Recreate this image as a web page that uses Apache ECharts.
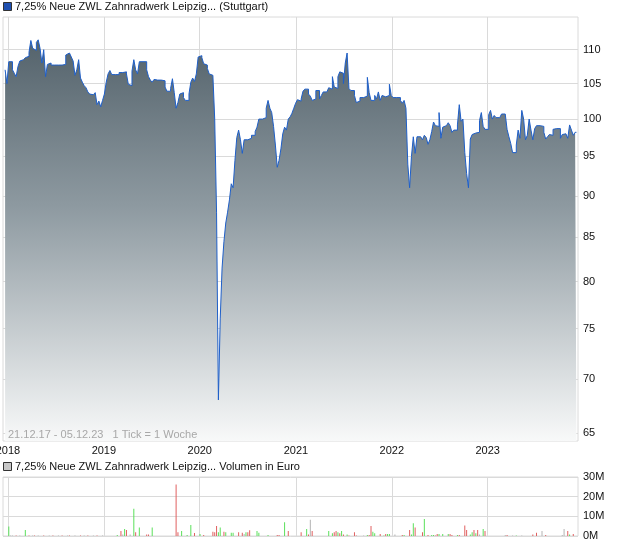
<!DOCTYPE html>
<html><head><meta charset="utf-8">
<script src="https://cdn.jsdelivr.net/npm/echarts@6/dist/echarts.min.js"></script>
<style>html,body{margin:0;padding:0;background:#fff}#c{width:620px;height:546px}</style>
</head><body><div id="c"></div>
<script>
const titleText = '7,25% Neue ZWL Zahnradwerk Leipzig... (Stuttgart)';
const volTitleText = '7,25% Neue ZWL Zahnradwerk Leipzig... Volumen in Euro';
const rangeNote = '21.12.17 - 05.12.23   1 Tick = 1 Woche';
const years = [2018, 2019, 2020, 2021, 2022, 2023];
const priceTicks = [65, 70, 75, 80, 85, 90, 95, 100, 105, 110];
const volTicks = [0, 10, 20, 30];
const firstWeek = [2017, 11, 21];
const lastDate = [2023, 11, 5];
const prices = [
 107, 105, 108.2, 108.2, 107, 106.5, 106, 107.5, 108.3, 108.5,
 108.5, 108.8, 109, 109.6, 111.4, 110.2, 109.9, 111.1, 111.5, 110.2,
 108, 110, 106, 107.8, 108, 107.7, 107.7, 107.7, 107.7, 107.7,
 107.7, 107.7, 107.8, 109.2, 109.5, 109.2, 108.9, 108.3, 106.2, 107,
 108.5, 105.8, 105.2, 104.7, 104.4, 103.8, 103.5, 103.4, 103.4, 103.7,
 102, 102.5, 101.7, 102.6, 103.5, 105.2, 106.4, 106.9, 106.3, 106.3,
 106.3, 106.3, 106.6, 106.6, 106.6, 106.7, 106.4, 104.9, 104.7, 106.8,
 108.5, 107, 106.4, 108.2, 108.2, 108.2, 108.2, 107, 106, 105.5,
 105.2, 105.6, 105.5, 105.5, 105.5, 105.5, 105.4, 104.5, 103.9, 103.9,
 104.3, 105.7, 103.7, 101.5, 102.3, 103.5, 103.7, 103, 102.6, 102.6,
 103.5, 105.2, 105.8, 105.3, 106.4, 108.9, 109.1, 108.8, 107.9, 107.7,
 107.2, 106.4, 106.2, 106, 100, 88, 68, 76, 81.5, 84.5,
 86.7, 88, 89.5, 91.5, 91, 94.5, 97.5, 98.5, 97.2, 95.4,
 97.2, 97.2, 97, 97.4, 97.8, 97.8, 98.3, 98.9, 100, 100,
 100, 100.2, 101.5, 102.6, 101.5, 100.9, 99, 96.5, 93.6, 94.5,
 96, 98, 98.9, 98.5, 100, 100.3, 100.8, 101.5, 102.2, 102.7,
 102.5, 102.8, 103.9, 104.2, 104.2, 103.5, 103.2, 102.6, 102.8, 104,
 104, 102.8, 103.3, 103.8, 103.8, 103.9, 104.4, 104.2, 106, 104.5,
 104.3, 106, 106.7, 106.5, 105, 108, 109.5, 104.3, 104, 104,
 103.3, 102.3, 102.5, 103, 103, 103, 103.2, 105.9, 103.7, 102.6,
 102.6, 103.3, 102.8, 103.8, 102.6, 103.3, 103.1, 103.1, 103.3, 104.9,
 103.3, 103, 103, 103, 103, 102.6, 102.2, 102.6, 101.5, 94,
 91, 95, 97.6, 95.4, 97.6, 97.6, 97.4, 97.2, 97.8, 97.5,
 96.6, 97.2, 98.3, 99.6, 99.1, 99, 100.9, 97.4, 98.9, 99.1,
 99.1, 99.5, 99.1, 98.2, 98.5, 98.5, 99.2, 102, 99.7, 100,
 95.5, 92.8, 91, 97.3, 97.9, 98.1, 98.3, 98.2, 99.8, 100.9,
 99, 98.6, 98.6, 100.6, 101.2, 100, 100.5, 100.2, 100.2, 100.2,
 100.7, 100.7, 100.7, 98.6, 97.6, 96.7, 95.5, 95.5, 96.5, 98.5,
 97.4, 101.2, 100, 97.2, 97.8, 100, 98.5, 97.2, 98.7, 99.1,
 99.1, 99.1, 99, 98.2, 97.3, 97.6, 97.9, 97.8, 98.6, 98.7,
 98.7, 98.7, 97.4, 97.9, 98, 97.8, 97.4, 99.2, 98.5, 97.8,
 98.2, 98.2
];
// volume: week index, value in million euro, sign (g = up, r = down, n = unchanged)
const volWeek = [2,3,4,6,8,11,13,15,16,18,21,24,26,29,31,34,35,38,41,43,45,48,50,53,
 61,63,64,65,66,68,70,71,73,77,78,80,93,94,96,99,101,103,106,108,
 113,114,115,116,117,119,120,123,124,127,129,130,131,132,133,137,138,143,148,149,152,154,
 161,164,165,166,167,176,178,179,180,181,182,183,184,186,187,190,191,195,197,198,199,200,201,
 204,206,207,208,209,212,216,217,220,221,222,223,227,228,230,232,233,234,235,236,238,241,242,243,
 246,247,250,251,253,254,255,256,257,258,260,261,272,273,276,278,281,287,289,292,294,303,304,306,307,309];
const volValue = [4.8,0.3,0.3,0.2,0.2,3.1,0.3,0.2,0.3,0.2,0.3,0.2,0.3,0.2,0.3,0.2,0.3,0.3,0.2,0.3,0.2,0.3,0.2,0.3,
 0.5,2.6,0.8,3.6,3.1,0.8,13.8,1.9,4.3,0.8,0.8,4.3,26.2,1.9,2.6,0.5,5.6,1.5,1,0.5,
 2.2,1.9,5.1,1.9,4.3,2.2,1.9,1.7,1.7,1.9,1.7,1,1.9,1.9,2.9,2.6,1.7,0.5,0.5,0.5,7,2.6,
 1.9,3.6,0.8,8.2,2.6,2.6,1.4,1.9,2.6,1.9,1.4,2.6,0.8,0.8,0.3,1.9,0.3,0.3,0.5,0.5,5.1,2.2,1.4,
 1,0.3,1,1,1,0.8,0.5,0.5,3.1,0.8,6.5,4.3,1.9,8.7,0.5,0.5,0.5,0.2,1,1,1,1,1,0.5,
 0.5,0.5,5.3,3.1,0.8,1.9,3.1,1.4,3.1,0.8,3.6,2.6,0.5,0.5,0.2,0.2,0.3,0.8,1.7,2.6,0.5,0.5,3.6,2.6,0.8,1];
const volSign = ['g','n','n','r','n','g','r','n','r','n','r','n','r','n','r','n','r','n','r','n','r','n','r','n',
 'g','r','n','g','r','n','g','r','g','r','r','g','r','r','g','g','g','r','g','r',
 'r','r','r','g','g','r','g','g','g','r','r','n','g','r','r','g','g','g','r','r','g','r',
 'r','g','r','n','r','g','g','r','r','g','r','g','r','g','r','r','r','n','g','r','r','g','g',
 'r','g','r','g','g','n','r','g','r','g','g','r','r','g','r','g','g','r','r','g','g','g','r','r',
 'g','r','r','r','g','g','r','g','r','n','g','r','n','r','n','g','n','r','r','n','r','n','n','r','g','r'];

const DAY = 86400000;
const t0 = Date.UTC(firstWeek[0], firstWeek[1], firstWeek[2]);
const weekTime = k => t0 + k * 7 * DAY;
const priceData = prices.map((v, k) => [k === prices.length - 1 ? Date.UTC(lastDate[0], lastDate[1], lastDate[2]) : weekTime(k), v]);
const signColor = { g: '#5be05b', r: '#e06060', n: '#b4b4b4' };
const volData = volWeek.map((k, i) => ({ value: [weekTime(k), volValue[i] * 1e6], itemStyle: { color: signColor[volSign[i]] } }));
const yearTimes = years.map(y => Date.UTC(y, 0, 1));
const xMin = Date.UTC(2017, 11, 13);
const xMax = Date.UTC(2023, 11, 11);
const FONT = '"Liberation Sans", Arial, sans-serif';
const gridColor = '#dadada';

const xAxisCommon = {
  type: 'value', min: xMin, max: xMax,
  axisLine: { show: false }, axisTick: { show: false, customValues: yearTimes },
  splitLine: { show: true, lineStyle: { color: gridColor, width: 1 } }
};

const chart = echarts.init(document.getElementById('c'), null, { renderer: 'canvas' });
chart.setOption({
  animation: false,
  backgroundColor: '#fff',
  textStyle: { fontFamily: FONT },
  grid: [
    { left: 3, right: 42, top: 17, bottom: 105, show: true, borderColor: gridColor, borderWidth: 1, backgroundColor: 'transparent', containLabel: false, outerBoundsMode: 'none' },
    { left: 3, right: 42, top: 477, bottom: 10, show: true, borderColor: gridColor, borderWidth: 1, backgroundColor: 'transparent', containLabel: false, outerBoundsMode: 'none' }
  ],
  xAxis: [
    Object.assign({}, xAxisCommon, { gridIndex: 0,
      axisLabel: { show: true, customValues: yearTimes, formatter: v => String(new Date(v).getUTCFullYear()), color: '#111', fontSize: 11, fontFamily: FONT, margin: 4, hideOverlap: false } }),
    Object.assign({}, xAxisCommon, { gridIndex: 1, axisLabel: { show: false, customValues: yearTimes } })
  ],
  yAxis: [
    { type: 'log', logBase: 10, gridIndex: 0, position: 'right', min: 64.27, max: 115.05,
      axisLine: { show: false }, axisTick: { show: false, customValues: priceTicks },
      axisLabel: { customValues: priceTicks, color: '#111', fontSize: 11, fontFamily: FONT, margin: 5 },
      splitLine: { show: true, lineStyle: { color: gridColor, width: 1 } } },
    { type: 'value', gridIndex: 1, position: 'right', min: 0, max: 30e6, interval: 10e6,
      axisLine: { show: false }, axisTick: { show: false },
      axisLabel: { formatter: v => (v / 1e6) + 'M', color: '#111', fontSize: 11, fontFamily: FONT, margin: 5 },
      splitLine: { show: true, lineStyle: { color: gridColor, width: 1 } } }
  ],
  series: [
    { type: 'line', xAxisIndex: 0, yAxisIndex: 0, data: priceData, step: 'end', symbol: 'none',
      lineStyle: { color: '#1f5fc8', width: 1 },
      areaStyle: { origin: 'start', opacity: 1, color: { type: 'linear', x: 0, y: 17, x2: 0, y2: 441, global: true,
        colorStops: [{ offset: 0, color: '#4c5b64' }, { offset: 0.45, color: '#8e9aa1' }, { offset: 1, color: '#f8f9f9' }] } },
      z: 3 },
    { type: 'bar', xAxisIndex: 1, yAxisIndex: 1, data: volData, barWidth: 1, z: 3 }
  ],
  graphic: [
    { type: 'rect', left: 3, top: 2, shape: { width: 8, height: 8 }, style: { fill: '#1f50b0', stroke: '#333', lineWidth: 1 }, z: 10 },
    { type: 'text', left: 15, top: 1, style: { text: titleText, font: '11px ' + FONT, fill: '#111' }, z: 10 },
    { type: 'rect', left: 3, top: 462, shape: { width: 8, height: 8 }, style: { fill: '#c8c8c8', stroke: '#333', lineWidth: 1 }, z: 10 },
    { type: 'text', left: 15, top: 461, style: { text: volTitleText, font: '11px ' + FONT, fill: '#111' }, z: 10 },
    { type: 'text', left: 8, top: 429, style: { text: rangeNote, font: '11px ' + FONT, fill: '#a8a8a8' }, z: 10 }
  ]
});
</script></body></html>
